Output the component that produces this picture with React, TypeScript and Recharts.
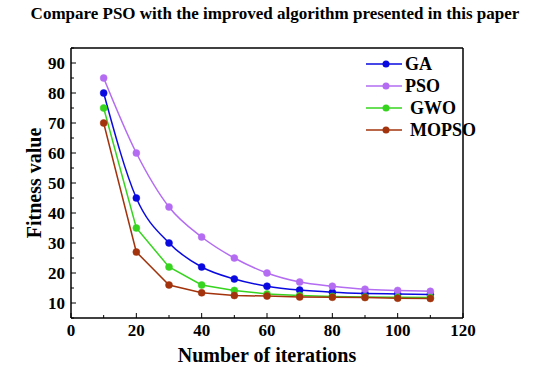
import { LineChart, Line, XAxis, YAxis, ReferenceLine, Label } from "recharts"

const iterations = [10, 20, 30, 40, 50, 60, 70, 80, 90, 100, 110]
const gaValues = [80, 45, 30, 22, 18, 15.6, 14.3, 13.6, 13.2, 13, 12.8]
const psoValues = [85, 60, 42, 32, 25, 20, 17, 15.6, 14.6, 14.2, 13.9]
const gwoValues = [75, 35, 22, 16, 14.2, 13, 12.5, 12.2, 12, 11.9, 11.8]
const mopsoValues = [70, 27, 16, 13.4, 12.5, 12.3, 12, 11.9, 11.8, 11.6, 11.5]

const xTicks = [0, 10, 20, 30, 40, 50, 60, 70, 80, 90, 100, 110, 120]
const yTicks = [5, 10, 15, 20, 25, 30, 35, 40, 45, 50, 55, 60, 65, 70, 75, 80, 85, 90, 95]

const data = iterations.map((it, i) => ({
  it,
  GA: gaValues[i],
  PSO: psoValues[i],
  GWO: gwoValues[i],
  MOPSO: mopsoValues[i],
}))

const series = [
  { key: "GA", color: "#0a0ae0", type: "monotone" },
  { key: "PSO", color: "#b36cf2", type: "monotone" },
  { key: "GWO", color: "#36d41e", type: "linear" },
  { key: "MOPSO", color: "#a3330c", type: "linear" },
]

const font = "Liberation Serif"
const textStyle = { fontFamily: font, fontWeight: "bold" as const, fill: "#000" }

const XTick = ({ x, y, payload }: any) => {
  const major = payload.value % 20 === 0
  return (
    <g>
      <line x1={x} x2={x} y1={y} y2={y - (major ? 5 : 3)} stroke="#000" strokeWidth={1} />
      {major && (
        <text x={x} y={y + 18} textAnchor="middle" fontFamily={font} fontWeight="bold" fontSize={17} fill="#000">
          {payload.value}
        </text>
      )}
    </g>
  )
}

const YTick = ({ x, y, payload }: any) => {
  const major = payload.value % 10 === 0
  return (
    <g>
      <line x1={x} x2={x + (major ? 5 : 3)} y1={y} y2={y} stroke="#000" strokeWidth={1} />
      {major && (
        <text x={x - 6} y={y + 6} textAnchor="end" fontFamily={font} fontWeight="bold" fontSize={17} fill="#000">
          {payload.value}
        </text>
      )}
    </g>
  )
}

const LegendBox = () => (
  <svg width={120} height={95} style={{ position: "absolute", left: 360, top: 52 }}>
    {series.map((s, i) => (
      <g key={s.key} transform={`translate(0, ${12 + i * 22})`}>
        <line x1={6} x2={42} y1={0} y2={0} stroke={s.color} strokeWidth={1.5} />
        <circle cx={26} cy={0} r={3.5} fill={s.color} />
        <text x={i < 2 ? 45 : 50} y={6} fontFamily={font} fontWeight="bold" fontSize={18} fill="#000">
          {s.key}
        </text>
      </g>
    ))}
  </svg>
)

export default function App() {
  return (
    <div style={{ position: "absolute", left: 0, top: 0, width: 550, height: 372, background: "#fff" }}>
      <div
        style={{
          position: "absolute",
          top: 4,
          width: 550,
          textAlign: "center",
          fontFamily: font,
          fontWeight: "bold",
          fontSize: 17,
        }}
      >
        Compare PSO with the improved algorithm presented in this paper
      </div>
      <LineChart width={550} height={372} data={data} margin={{ top: 48, right: 87, bottom: 24, left: 0 }}>
        <XAxis
          dataKey="it"
          type="number"
          domain={[0, 120]}
          ticks={xTicks}
          tickLine={false}
          tickSize={0}
          tickMargin={0}
          tick={<XTick />}
          height={30}
          stroke="#000"
          strokeWidth={1.5}
          interval={0}
        >
          <Label
            value="Number of iterations"
            position="insideBottom"
            offset={-14}
            style={{ ...textStyle, fontSize: 20 }}
          />
        </XAxis>
        <YAxis
          type="number"
          domain={[5, 95]}
          ticks={yTicks}
          tickLine={false}
          tickSize={0}
          tickMargin={0}
          tick={<YTick />}
          width={71}
          stroke="#000"
          strokeWidth={1.5}
          interval={0}
        >
          <Label
            value="Fitness value"
            angle={-90}
            position="insideLeft"
            offset={34}
            style={{ ...textStyle, fontSize: 20, textAnchor: "middle" }}
          />
        </YAxis>
        <ReferenceLine y={95} stroke="#000" strokeWidth={1.5} />
        <ReferenceLine x={120} stroke="#000" strokeWidth={1.5} />
        {series.map((s) => (
          <Line
            key={s.key}
            dataKey={s.key}
            type={s.type as any}
            stroke={s.color}
            strokeWidth={1.5}
            dot={{ r: 3.5, fill: s.color, stroke: s.color, strokeWidth: 0.5 }}
            isAnimationActive={false}
          />
        ))}
      </LineChart>
      <LegendBox />
    </div>
  )
}
